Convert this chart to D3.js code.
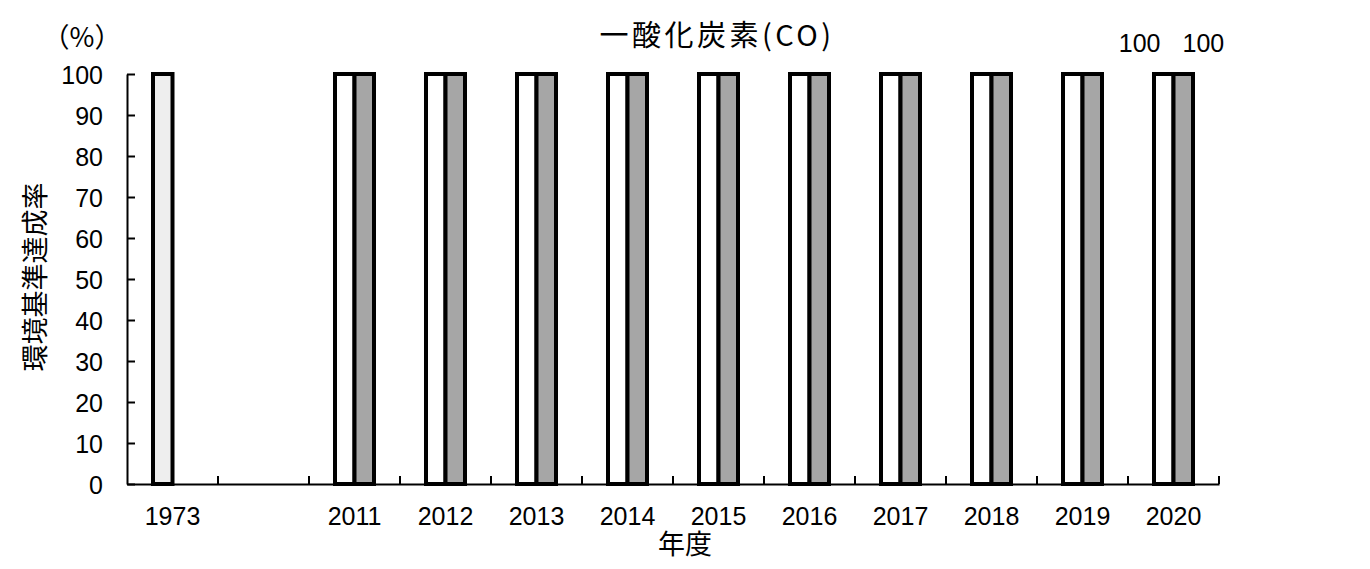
<!DOCTYPE html>
<html><head><meta charset="utf-8">
<script src="https://cdn.jsdelivr.net/npm/d3@7"></script>
<style>
body{margin:0;background:#fff;}
text{font-family:"Liberation Sans","Noto Sans CJK JP",sans-serif;fill:#000;}
.cjk{font-family:"Noto Sans CJK JP",sans-serif;}
</style></head>
<body><svg id="chart" width="1370" height="569"></svg>
<script>
const categories = ["1973", "", "2011", "2012", "2013", "2014", "2015", "2016", "2017", "2018", "2019", "2020"];
const values1973 = [100, null, null, null, null, null, null, null, null, null, null, null];
const valuesA = [null, null, 100, 100, 100, 100, 100, 100, 100, 100, 100, 100];
const valuesB = [null, null, 100, 100, 100, 100, 100, 100, 100, 100, 100, 100];
const yTicks = [0, 10, 20, 30, 40, 50, 60, 70, 80, 90, 100];
const title = "一酸化炭素(CO)";
const yTitle = "環境基準達成率";
const xTitle = "年度";
const unit = "（%）";

const svg = d3.select("#chart");
const pL = 127, pR = 1219, pT = 74, pB = 484;
const x = d3.scaleBand().domain(d3.range(categories.length)).range([pL, pR]).paddingInner(0).paddingOuter(0);
const y = d3.scaleLinear().domain([0, 100]).range([pB, pT]);
const bw = 19.5;

// bars
const series = [
  {vals: values1973, fill: "#eeeeee", off: -bw},
  {vals: valuesA, fill: "#ffffff", off: -bw},
  {vals: valuesB, fill: "#a6a6a6", off: 0}
];
series.forEach(s => {
  svg.append("g").selectAll("rect")
    .data(s.vals.map((v, i) => ({v, i})).filter(d => d.v != null))
    .join("rect")
    .attr("x", d => x(d.i) + x.bandwidth() / 2 + s.off)
    .attr("y", d => y(d.v))
    .attr("width", bw)
    .attr("height", d => y(0) - y(d.v))
    .attr("fill", s.fill)
    .attr("stroke", "#000")
    .attr("stroke-width", 4);
});

// y axis
const ya = svg.append("g").attr("transform", `translate(${pL},0)`)
  .call(d3.axisLeft(y).tickValues(yTicks).tickSizeInner(-8).tickSizeOuter(0).tickPadding(24));
ya.select(".domain").attr("stroke-width", 2);
ya.selectAll(".tick line").attr("stroke-width", 2);
ya.selectAll(".tick text").style("font-size", "25px").attr("dy", "0.36em");

// x axis
const xa = svg.append("g").attr("transform", `translate(0,${pB})`)
  .call(d3.axisBottom(x).tickFormat(i => categories[i]).tickSize(0).tickPadding(23));
xa.select(".domain").attr("stroke-width", 2);
xa.selectAll(".tick text").style("font-size", "25px");
svg.append("g").selectAll("line")
  .data(d3.range(1, categories.length + 1))
  .join("line")
  .attr("x1", i => i < categories.length ? x(i) : x(categories.length - 1) + x.bandwidth())
  .attr("x2", i => i < categories.length ? x(i) : x(categories.length - 1) + x.bandwidth())
  .attr("y1", pB).attr("y2", pB - 8)
  .attr("stroke", "#000").attr("stroke-width", 2);

// data labels for last year
const li = categories.length - 1;
const cx = x(li) + x.bandwidth() / 2;
svg.append("text").attr("x", cx - 13).attr("y", 52).attr("text-anchor", "end")
  .style("font-size", "25px").text(valuesA[li]);
svg.append("text").attr("x", cx + 9).attr("y", 52).attr("text-anchor", "start")
  .style("font-size", "25px").text(valuesB[li]);

// titles
svg.append("text").attr("x", 717).attr("y", 46).attr("text-anchor", "middle")
  .attr("class", "cjk").style("font-size", "29px").style("letter-spacing", "3.5px").text(title);
svg.append("text").attr("x", 82).attr("y", 47).attr("text-anchor", "middle")
  .attr("class", "cjk").style("font-size", "27px").text(unit);
svg.append("text").attr("x", 685).attr("y", 554).attr("text-anchor", "middle")
  .attr("class", "cjk").style("font-size", "27px").text(xTitle);
svg.append("text").attr("transform", "translate(45,277) rotate(-90)").attr("text-anchor", "middle")
  .attr("class", "cjk").style("font-size", "27px").text(yTitle);
</script></body></html>
